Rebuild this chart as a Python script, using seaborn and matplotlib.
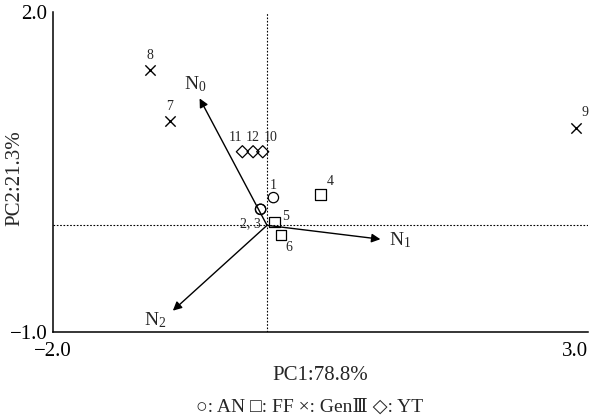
import matplotlib
matplotlib.use("Agg")
import matplotlib.pyplot as plt
import seaborn as sns
import pandas as pd

# ---- data ----
an_x = [0.06, -0.06, -0.06]
an_y = [0.26, 0.15, 0.15]
ff_x = [0.50, 0.07, 0.13]
ff_y = [0.29, 0.03, -0.09]
gen_x = [-0.91, -1.09, 2.89]
gen_y = [0.98, 1.46, 0.91]
yt_x = [-0.04, -0.23, -0.13]
yt_y = [0.69, 0.69, 0.69]

vec_names = ["N$_0$", "N$_1$", "N$_2$"]
vec_x = [-0.63, 1.06, -0.88]
vec_y = [1.19, -0.13, -0.80]

x_ticks = [-2.0, -1.0, 0.0, 1.0, 2.0, 3.0]
x_ticklabels = ["−2.0", "", "", "", "", "3.0"]
y_ticks = [-1.0, -0.5, 0.0, 0.5, 1.0, 1.5, 2.0]
y_ticklabels = ["−1.0", "", "", "", "", "", "2.0"]

sns.set_style("white")
plt.rcParams["font.family"] = ["Liberation Serif", "DejaVu Serif"]
plt.rcParams["mathtext.fontset"] = "custom"
plt.rcParams["mathtext.rm"] = "Liberation Serif"
plt.rcParams["mathtext.it"] = "Liberation Serif:italic"

fig = plt.figure(figsize=(6.05, 4.18), dpi=100)
ax = fig.add_axes([53/605, 1-332/418, (588-53)/605, (332-12)/418])

# reference lines
ax.plot([0, 0], [-1, 2], color="black", lw=0.8, ls=(0, (1.5, 1.5)), zorder=1)
ax.plot([-2, 3], [0, 0], color="black", lw=0.8, ls=(0, (1.5, 1.5)), zorder=1)

kw = dict(ax=ax, s=55, facecolor="none", edgecolor="black", linewidth=0.9, zorder=3, legend=False)
sns.scatterplot(x=an_x, y=an_y, marker="o", **kw)
sns.scatterplot(x=ff_x, y=ff_y, marker="s", **kw)
sns.scatterplot(x=yt_x, y=yt_y, marker="D", s=38, facecolor="none", edgecolor="black",
                linewidth=0.9, zorder=3, legend=False, ax=ax)
sns.scatterplot(x=gen_x, y=gen_y, marker="x", s=55, color="black", linewidth=1.0,
                zorder=3, legend=False, ax=ax)

# vectors
for nm, vx, vy in zip(vec_names, vec_x, vec_y):
    ax.annotate("", xy=(vx, vy), xytext=(0, 0),
                arrowprops=dict(arrowstyle="-|>", color="black", lw=1.0,
                                mutation_scale=13, shrinkA=0, shrinkB=0), zorder=2)
offs = [(-3, 10), (14, -1), (-13, -7)]
for nm, vx, vy, o in zip(vec_names, vec_x, vec_y, offs):
    ax.annotate(nm, xy=(vx, vy), xytext=o, textcoords="offset points",
                ha="center", va="center", fontsize=14)

# point labels
point_labels = [("1", an_x[0], an_y[0], (0, 9)),
                ("2, 3", 0.0, 0.0, (-12, 1)),
                ("4", ff_x[0], ff_y[0], (7, 9)),
                ("5", ff_x[1], ff_y[1], (8, 4)),
                ("6", ff_x[2], ff_y[2], (6, -9)),
                ("7", gen_x[0], gen_y[0], (0, 10)),
                ("8", gen_x[1], gen_y[1], (0, 10)),
                ("9", gen_x[2], gen_y[2], (6, 11)),
                ("10", yt_x[0], yt_y[0], (6, 10)),
                ("11", yt_x[1], yt_y[1], (-5, 10)),
                ("12", yt_x[2], yt_y[2], (0, 10))]
for t, px, py, o in point_labels:
    ax.annotate(t, xy=(px, py), xytext=o, textcoords="offset points",
                ha="center", va="center", fontsize=10)

ax.set_xlim(-2, 3)
ax.set_ylim(-1, 2)
ax.set_xticks(x_ticks)
ax.set_xticklabels(x_ticklabels, fontsize=15)
ax.set_yticks(y_ticks)
ax.set_yticklabels(y_ticklabels, fontsize=15)
ax.tick_params(direction="in", length=4, width=0.9, colors="black")
ax.tick_params(axis="x", pad=7)
ax.tick_params(axis="y", pad=4)
xl = ax.get_xticklabels()
xl[-1].set_ha("right")
xl[-1].set_x(3.0)
sns.despine(ax=ax)
for sp in ["left", "bottom"]:
    ax.spines[sp].set_linewidth(1.1)
    ax.spines[sp].set_color("black")

fig.text(320/605, 1-376/418, "PC1:78.8%", ha="center", va="center", fontsize=15)
fig.text(15/605, 1-178/418, "PC2:21.3%", ha="center", va="center", fontsize=15, rotation=90)
fig.text(310/605, 1-407/418, "○: AN □: FF ×: GenⅢ ◇: YT", ha="center", va="center", fontsize=14)

fig.savefig("out.png", dpi=100)
